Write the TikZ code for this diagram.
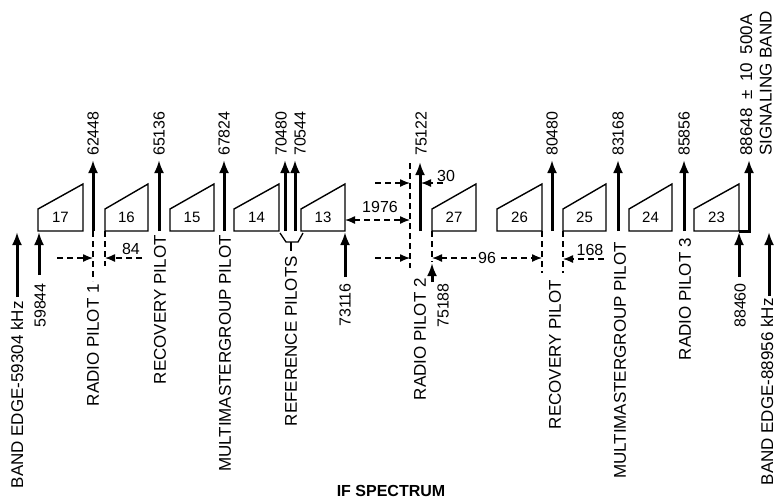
\documentclass[tikz,border=0pt]{standalone}
\usepackage{fontspec}
\setmainfont{Liberation Sans}
\usepackage{tikz}
\usetikzlibrary{arrows.meta}

\newcommand{\lbfont}{\fontsize{17}{19.5}\selectfont}
\newcommand{\nmfont}{\fontsize{16}{18}\selectfont}
\newcommand{\bkfont}{\fontsize{15}{17}\selectfont}

\tikzset{
  pilot/.style={line width=3pt, -{Latex[length=13pt,width=10pt]}},
  chan/.style={line width=1.4pt, line join=miter},
  dim/.style={line width=1.3pt, dash pattern=on 6pt off 4pt},
  dimarrow/.style={dim, -{Latex[length=10pt,width=8pt]}},
  lbl/.style={rotate=90, inner sep=0pt, font=\lbfont},
  num/.style={rotate=90, inner sep=0pt, font=\nmfont},
  bk/.style={inner sep=0pt, font=\bkfont},
}

\begin{document}
\begin{tikzpicture}[x=1pt, y=-1pt]
    \useasboundingbox (0,0) rectangle (776,499);

    % Kanalblokker (nedre gruppe 17..13)
    \draw[chan] (38,231) -- (83,231) -- (83,184) -- (38,209) -- cycle;
    \node[bk] (c17) at (60.5,217) {17};
    \draw[chan] (105,231) -- (148,231) -- (148,184) -- (105,209) -- cycle;
    \node[bk] (c16) at (126.5,217) {16};
    \draw[chan] (170,231) -- (214,231) -- (214,184) -- (170,209) -- cycle;
    \node[bk] (c15) at (192,217) {15};
    \draw[chan] (234,231) -- (279,231) -- (279,184) -- (234,209) -- cycle;
    \node[bk] (c14) at (256.5,217) {14};
    \draw[chan] (301,231) -- (345,231) -- (345,184) -- (301,209) -- cycle;
    \node[bk] (c13) at (323,217) {13};

    % Kanalblokker (øvre gruppe 27..23)
    \draw[chan] (432,231) -- (476,231) -- (476,184) -- (432,209) -- cycle;
    \node[bk] (c27) at (454,217) {27};
    \draw[chan] (497,231) -- (542,231) -- (542,184) -- (497,209) -- cycle;
    \node[bk] (c26) at (519.5,217) {26};
    \draw[chan] (563,231) -- (606,231) -- (606,184) -- (563,209) -- cycle;
    \node[bk] (c25) at (584.5,217) {25};
    \draw[chan] (629,231) -- (672,231) -- (672,184) -- (629,209) -- cycle;
    \node[bk] (c24) at (650.5,217) {24};
    \draw[chan] (694,231) -- (739,231) -- (739,184) -- (694,209) -- cycle;
    \node[bk] (c23) at (716.5,217) {23};

    % Piloter (piler opp)
    \draw[pilot] (93,231) -- (93,160);
    \draw[pilot] (159,231) -- (159,160);
    \draw[pilot] (224,231) -- (224,160);
    \draw[pilot] (285,231) -- (285,160);
    \draw[pilot] (295,231) -- (295,160);
    \draw[pilot] (420,231) -- (420,162);
    \draw[pilot] (552,231) -- (552,160);
    \draw[pilot] (618,231) -- (618,160);
    \draw[pilot] (684,231) -- (684,160);
    \draw[pilot] (739,231) -- (749,231) -- (749,160);

    % Frekvenser over pilotene
    \node[num, anchor=west] (f62448) at (93,156) {62448};
    \node[num, anchor=west] (f65136) at (159,156) {65136};
    \node[num, anchor=west] (f67824) at (224,156) {67824};
    \node[num, anchor=west] (f70480) at (281,156) {70480};
    \node[num, anchor=west] (f70544) at (300,156) {70544};
    \node[num, anchor=west] (f75122) at (421,156) {75122};
    \node[num, anchor=west] (f80480) at (552,156) {80480};
    \node[num, anchor=west] (f83168) at (618,156) {83168};
    \node[num, anchor=west] (f85856) at (684,156) {85856};
    \node[lbl, anchor=north west, align=left] (fsig) at (740,156)
      {88648\hspace{4pt} ±\hspace{4pt} 10\hspace{4pt} 500A\\SIGNALING BAND};

    % Båndkanter og kanalkanter (piler nedenfra)
    \draw[pilot] (17,297) -- (17,232);
    \draw[pilot] (39,275) -- (39,232);
    \draw[pilot] (345,277) -- (345,232);
    \draw[pilot] (432,282) -- (432,263);
    \draw[pilot] (739,277) -- (739,232);
    \draw[pilot] (769,296) -- (769,232);

    % Referansepiloter -- klamme
    \draw[line width=1.3pt] (280,233) -- (286,242) -- (298,242) -- (303,233);
    \draw[line width=1.3pt] (291,242) -- (291,251);

    % Stiplede hjelpelinjer
    \draw[dim] (93,231) -- (93,281);
    \draw[dim] (105,231) -- (105,266);
    \draw[dim] (410,163) -- (410,268);
    \draw[dim] (432,231) -- (432,262);
    \draw[dim] (542,231) -- (542,273);
    \draw[dim] (563,231) -- (563,273);

    % Avstander
    \draw[dimarrow] (57,258) -- (93,258);
    \draw[dimarrow] (142,258) -- (105,258);
    \node[font=\nmfont] (d84) at (131,249) {84};
    \draw[dim, {Latex[length=10pt,width=8pt]}-{Latex[length=10pt,width=8pt]}] (345,220) -- (410,220);
    \node[font=\nmfont] (d1976) at (380,207) {1976};
    \draw[dimarrow] (375,183) -- (410,183);
    \draw[dimarrow] (443,183) -- (421,183);
    \node[font=\nmfont] (d30) at (446,176) {30};
    \draw[dimarrow] (375,258) -- (410,258);
    \draw[dim, {Latex[length=10pt,width=8pt]}-{Latex[length=10pt,width=8pt]}] (432,258) -- (542,258)
      node[midway, fill=white, inner sep=2pt, font=\nmfont] (d96) {96};
    \draw[dimarrow] (604,259) -- (563,259);
    \node[font=\nmfont] (d168) at (590,250) {168};

    % Tekster under
    \node[lbl, anchor=east] (be1) at (17,301) {BAND EDGE-59304 kHz};
    \node[num, anchor=east] (f59844) at (40,283) {59844};
    \node[lbl, anchor=east] (rp1) at (93,284) {RADIO PILOT 1};
    \node[lbl, anchor=east] (rec1) at (160,235) {RECOVERY PILOT};
    \node[lbl, anchor=east] (mmg1) at (225,235) {MULTIMASTERGROUP PILOT};
    \node[lbl, anchor=east] (ref) at (291,256) {REFERENCE PILOTS};
    \node[num, anchor=east] (f73116) at (345,283) {73116};
    \node[lbl, anchor=east] (rp2) at (420,278) {RADIO PILOT 2};
    \node[num, anchor=east] (f75188) at (443,283) {75188};
    \node[lbl, anchor=east] (rec2) at (555,280) {RECOVERY PILOT};
    \node[lbl, anchor=east] (mmg2) at (620,242) {MULTIMASTERGROUP PILOT};
    \node[lbl, anchor=east] (rp3) at (685,238) {RADIO PILOT 3};
    \node[num, anchor=east] (f88460) at (740,283) {88460};
    \node[lbl, anchor=east] (be2) at (767,298) {BAND EDGE-88956 kHz};

    \node[font=\bfseries\fontsize{16}{18}\selectfont] (title) at (391,491) {IF SPECTRUM};
\end{tikzpicture}
\end{document}
